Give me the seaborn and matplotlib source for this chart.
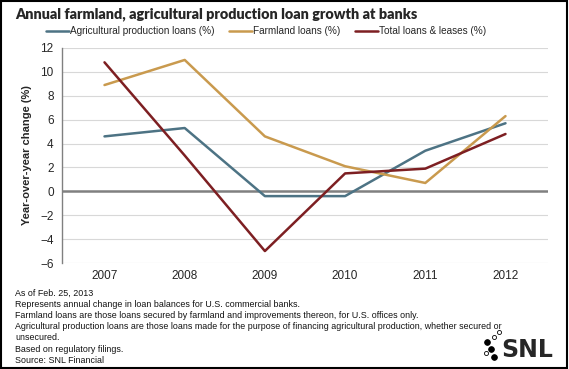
import pandas as pd
import matplotlib.pyplot as plt
import seaborn as sns
from matplotlib.patches import Rectangle

# --- data ---
years = ["2007", "2008", "2009", "2010", "2011", "2012"]
ag_production = [4.6, 5.3, -0.4, -0.4, 3.4, 5.7]
farmland = [8.9, 11.0, 4.6, 2.1, 0.7, 6.3]
total_loans = [10.8, 3.0, -5.0, 1.5, 1.9, 4.8]

series_names = ["Agricultural production loans (%)", "Farmland loans (%)",
                "Total loans & leases (%)"]
colors = ["#4d7384", "#c99a4e", "#7d1f22"]

footnotes = [
    "As of Feb. 25, 2013",
    "Represents annual change in loan balances for U.S. commercial banks.",
    "Farmland loans are those loans secured by farmland and improvements thereon, for U.S. offices only.",
    "Agricultural production loans are those loans made for the purpose of financing agricultural production, whether secured or",
    "unsecured.",
    "Based on regulatory filings.",
    "Source: SNL Financial",
]

df = pd.DataFrame({
    "year": years * 3,
    "value": ag_production + farmland + total_loans,
    "series": [series_names[0]] * 6 + [series_names[1]] * 6 + [series_names[2]] * 6,
})
df["x"] = df["year"].map({y: i for i, y in enumerate(years)})

sns.set_style("white")
plt.rcParams["font.family"] = ["Liberation Sans", "DejaVu Sans"]

fig = plt.figure(figsize=(5.69, 3.69), dpi=100)
ax = fig.add_axes([62 / 569, 1 - 263 / 369, (548 - 62) / 569, (263 - 48) / 369])

sns.lineplot(data=df, x="x", y="value", hue="series", palette=colors,
             hue_order=series_names, linewidth=1.8, ax=ax, legend=False)

ax.set_xlim(-0.53, 5.53)
ax.set_ylim(-6, 12)
ax.set_yticks(range(-6, 13, 2))
ax.set_xticks(range(len(years)))
ax.set_xticklabels(years)
ax.tick_params(axis="y", length=4, width=0.8, color="#808080", labelsize=8.5, pad=2)
ax.tick_params(axis="x", length=0, labelsize=8.5, pad=5)
ax.set_xlabel("")
ax.set_ylabel("Year-over-year change (%)", fontsize=8, fontweight="bold", labelpad=6)

for y in range(-6, 13, 2):
    if y != 0:
        ax.axhline(y, color="#d8d8d8", lw=0.8, zorder=0)
ax.axhline(0, color="#808080", lw=1.8, zorder=1)

for side in ["top", "right", "bottom"]:
    ax.spines[side].set_visible(False)
ax.spines["left"].set_color("#808080")
ax.spines["left"].set_linewidth(1.0)

# legend across the top
handles = [plt.Line2D([], [], color=c, lw=1.8) for c in colors]
fig.legend(handles, series_names, loc="center", bbox_to_anchor=(266 / 569, 1 - 31 / 369),
           ncol=3, frameon=False, fontsize=7.2, handlelength=2.3, handletextpad=0.1,
           columnspacing=1.5)

fig.text(15 / 569, 1 - 14 / 369, "Annual farmland, agricultural production loan growth at banks",
         fontsize=10.4, fontweight="heavy", va="center", family=["Lato", "DejaVu Sans"])

# footnotes
for i, line in enumerate(footnotes):
    fig.text(15 / 569, 1 - (293 + i * 11.2) / 369, line, fontsize=6.4, va="center",
             color="#111111")

# SNL logo
fig.text(553 / 569, 1 - 350 / 369, "SNL", fontsize=17, fontweight="bold",
         ha="right", va="center", family=["DejaVu Sans"])
dots_x = [487, 494, 499, 491, 486, 494]
dots_y = [342, 337, 332, 349, 353, 357]
dots_s = [14, 7, 7, 14, 7, 14]
dots_fill = ["k", "none", "none", "k", "none", "k"]
for dx, dy, ds, dfc in zip(dots_x, dots_y, dots_s, dots_fill):
    fig.add_artist(plt.Line2D([dx / 569], [1 - dy / 369], marker="o", markersize=ds ** 0.5 * 1.1,
                              markerfacecolor=dfc, markeredgecolor="k", markeredgewidth=0.6,
                              transform=fig.transFigure))

# black frame around the figure
fig.add_artist(Rectangle((0.002, 0.003), 0.995, 0.994, transform=fig.transFigure,
                         fill=False, edgecolor="black", lw=1.5))

fig.savefig("out.png", dpi=100)
